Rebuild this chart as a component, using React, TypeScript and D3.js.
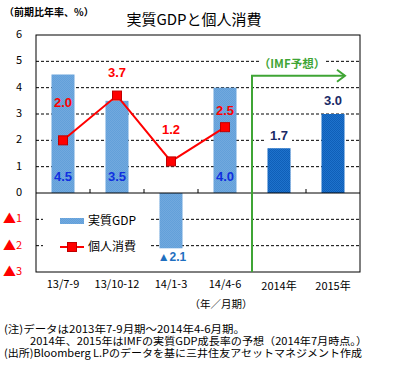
import React from "react";
import * as d3 from "d3";

const categories = ["13/7-9", "13/10-12", "14/1-3", "14/4-6", "2014年", "2015年"];
const gdpValues = [4.5, 3.5, -2.1, 4.0, 1.7, 3.0];
const isForecast = [false, false, false, false, true, true];
const consCategories = ["13/7-9", "13/10-12", "14/1-3", "14/4-6"];
const consValues = [2.0, 3.7, 1.2, 2.5];
const consLabelLift = [37, 22, 31, 16];
const yTicks = [-3, -2, -1, 0, 1, 2, 3, 4, 5, 6];

const W = 405;
const H = 376;
const M = { left: 36, right: 360, top: 35, bottom: 272 };
const JP = "'Noto Sans CJK JP', 'Noto Sans', sans-serif";
const NUM = "'Liberation Sans', Arial, sans-serif";

const fmt = (v: number) => (v < 0 ? "▲" + Math.abs(v).toFixed(1) : v.toFixed(1));

export default function App() {
  const x = d3
    .scaleBand<string>()
    .domain(categories)
    .range([M.left, M.right])
    .paddingInner(0.574)
    .paddingOuter(0.287);
  const y = d3.scaleLinear().domain([-3, 6]).range([M.bottom, M.top]);
  const cx = (c: string) => (x(c) as number) + x.bandwidth() / 2;
  const step = x.step();

  const line = d3
    .line<number>()
    .x((_, i) => cx(consCategories[i]))
    .y((d) => y(d));

  const greenX = M.left + step * 4;
  const green = "#3FA535";
  const arrowY = y(4.45);

  return (
    <svg width={W} height={H} style={{ position: "absolute", left: 0, top: 0, background: "#fff" }}>
      <defs>
        <pattern id="ditherL" width="2" height="2" patternUnits="userSpaceOnUse">
          <rect width="2" height="2" fill="#72A9DE" />
          <rect width="1" height="1" fill="#62A0DA" />
          <rect x="1" y="1" width="1" height="1" fill="#62A0DA" />
        </pattern>
        <pattern id="ditherD" width="2" height="2" patternUnits="userSpaceOnUse">
          <rect width="2" height="2" fill="#1E72CC" />
          <rect width="1" height="1" fill="#0F5FB8" />
          <rect x="1" y="1" width="1" height="1" fill="#0F5FB8" />
        </pattern>
      </defs>
      {/* header */}
      <text x={4} y={16} fontFamily={JP} fontSize={10} fontWeight="bold" fill="#000">
        （前期比年率、%）
      </text>
      <text x={194} y={25} textAnchor="middle" fontFamily={JP} fontSize={15} fill="#000">
        実質GDPと個人消費
      </text>

      {/* gridlines */}
      {yTicks
        .filter((t) => t !== 0 && t !== 6 && t !== -3)
        .map((t) => (
          <line
            key={t}
            x1={M.left}
            x2={M.right}
            y1={y(t)}
            y2={y(t)}
            stroke="#000"
            strokeWidth={1}
            strokeDasharray="3,2"
          />
        ))}

      {/* legend background covering gridlines */}
      <rect x={43} y={205} width={107} height={56} fill="#fff" />

      {/* bars */}
      {categories.map((c, i) => {
        const v = gdpValues[i];
        return (
          <rect
            key={c}
            x={x(c)}
            y={y(Math.max(0, v))}
            width={x.bandwidth()}
            height={Math.abs(y(v) - y(0))}
            fill={isForecast[i] ? "url(#ditherD)" : "url(#ditherL)"}
          />
        );
      })}

      {/* zero line & ticks */}
      <line x1={M.left} x2={M.right} y1={y(0)} y2={y(0)} stroke="#000" strokeWidth={1} />
      {d3.range(1, categories.length).map((k) => (
        <line
          key={k}
          x1={M.left + step * k}
          x2={M.left + step * k}
          y1={y(0)}
          y2={y(0) - 4}
          stroke="#000"
        />
      ))}

      {/* frame */}
      <rect
        x={M.left}
        y={M.top}
        width={M.right - M.left}
        height={M.bottom - M.top}
        fill="none"
        stroke="#000"
        strokeWidth={1}
      />

      {/* GDP labels */}
      {categories.map((c, i) => {
        const v = gdpValues[i];
        if (isForecast[i]) {
          const ty = y(v) - 12;
          return (
            <g key={c}>
              <rect x={cx(c) - 13} y={ty - 8} width={26} height={15} fill="#fff" />
              <text x={cx(c)} y={ty} textAnchor="middle" dominantBaseline="middle" fontFamily={NUM} fontWeight="bold" fontSize={13} fill="#1A2A66">
                {fmt(v)}
              </text>
            </g>
          );
        }
        if (v < 0) {
          return (
            <text key={c} x={cx(c) + 1} y={y(v) + 10} textAnchor="middle" dominantBaseline="middle" fontFamily={NUM} fontWeight="bold" fontSize={12} fill="#1F6FC0">
              {fmt(v)}
            </text>
          );
        }
        return (
          <text key={c} x={cx(c)} y={y(0) - 15} textAnchor="middle" dominantBaseline="middle" fontFamily={NUM} fontWeight="bold" fontSize={13} fill="#1030E0">
            {fmt(v)}
          </text>
        );
      })}

      {/* consumption line */}
      <path d={line(consValues) || ""} fill="none" stroke="#FF0000" strokeWidth={2} />
      {consValues.map((v, i) => (
        <rect
          key={i}
          x={cx(consCategories[i]) - 4.5}
          y={y(v) - 4.5}
          width={9}
          height={9}
          fill="#FF0000"
          stroke="#C00000"
          strokeWidth={1}
        />
      ))}
      {consValues.map((v, i) => (
        <text
          key={"l" + i}
          x={cx(consCategories[i])}
          y={y(v) - consLabelLift[i]}
          textAnchor="middle"
          dominantBaseline="middle"
          fontFamily={NUM}
          fontWeight="bold"
          fontSize={13}
          fill="#FF0000"
        >
          {fmt(v)}
        </text>
      ))}

      {/* IMF forecast annotation */}
      <rect x={259} y={56} width={67} height={16} fill="#fff" />
      <text x={292} y={64.5} textAnchor="middle" dominantBaseline="middle" fontFamily={JP} fontWeight="bold" fontSize={11.5} fill={green}>
        （IMF予想）
      </text>
      <line x1={greenX} x2={greenX} y1={M.bottom} y2={arrowY} stroke={green} strokeWidth={2} />
      <line x1={greenX - 1} x2={345} y1={arrowY} y2={arrowY} stroke={green} strokeWidth={2} />
      <path
        d={`M${337},${arrowY - 6} L${345},${arrowY} L${337},${arrowY + 6}`}
        fill="none"
        stroke={green}
        strokeWidth={2}
      />

      {/* Y axis labels */}
      {yTicks.map((t) =>
        t < 0 ? (
          <text key={t} x={22} y={y(t)} textAnchor="end" dominantBaseline="middle" fontFamily={JP} fill="#FF0000">
            <tspan fontSize={13}>▲</tspan>
            <tspan fontSize={11}>{Math.abs(t)}</tspan>
          </text>
        ) : (
          <text key={t} x={22} y={y(t)} textAnchor="end" dominantBaseline="middle" fontFamily={JP} fontSize={11} fill="#000">
            {t}
          </text>
        )
      )}

      {/* X axis labels */}
      {categories.map((c, i) => (
        <text
          key={c}
          x={cx(c)}
          y={isForecast[i] ? 287 : 285}
          textAnchor="middle"
          dominantBaseline="middle"
          fontFamily={JP}
          fontSize={11}
          fill="#000"
        >
          {c}
        </text>
      ))}
      <text x={221} y={305} textAnchor="middle" dominantBaseline="middle" fontFamily={JP} fontSize={10.5} fill="#000">
        （年／月期）
      </text>

      {/* legend */}
      <rect x={60} y={218} width={24} height={6} fill="url(#ditherL)" />
      <text x={88} y={221.5} dominantBaseline="middle" fontFamily={JP} fontSize={12} fill="#000">
        実質GDP
      </text>
      <line x1={60} x2={84} y1={247} y2={247} stroke="#FF0000" strokeWidth={2} />
      <rect x={67.5} y={242.5} width={9} height={9} fill="#FF0000" stroke="#C00000" />
      <text x={88} y={247.5} dominantBaseline="middle" fontFamily={JP} fontSize={12} fill="#000">
        個人消費
      </text>

      {/* notes */}
      <text x={4} y={332.5} fontFamily={JP} fontSize={10.5} fill="#000" textLength={241} lengthAdjust="spacingAndGlyphs">
        (注)データは2013年7-9月期～2014年4-6月期。
      </text>
      <text x={30} y={344.5} fontFamily={JP} fontSize={10.5} fill="#000" textLength={337} lengthAdjust="spacingAndGlyphs">
        2014年、2015年はIMFの実質GDP成長率の予想（2014年7月時点。）
      </text>
      <text x={4} y={357} fontFamily={JP} fontSize={10.5} fill="#000" textLength={358} lengthAdjust="spacingAndGlyphs">
        (出所)Bloomberg L.Pのデータを基に三井住友アセットマネジメント作成
      </text>
    </svg>
  );
}
